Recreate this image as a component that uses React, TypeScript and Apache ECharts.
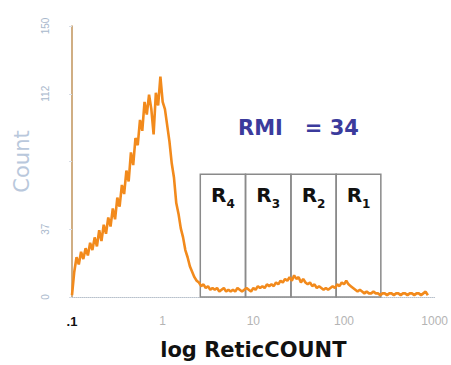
import React, { useEffect, useRef } from "react";
import * as echarts from "echarts";

// Histogram bins: evenly spaced in log10(ReticCOUNT), starting at 0.1
const binLogStart = -1;
const binLogWidth = 0.025;
const counts = [
  1, 14, 22, 18, 25, 21, 27, 23, 30, 26,
  33, 28, 37, 31, 40, 35, 44, 39, 49, 43,
  55, 50, 62, 57, 70, 64, 80, 73, 88, 84,
  98, 92, 108, 101, 112, 104, 90, 113, 106, 122,
  108, 104, 95, 86, 74, 66, 52, 46, 38, 33,
  26, 22, 17, 14, 11, 9, 8, 6, 7, 5,
  6, 4, 5, 4, 5, 3, 4, 5, 3, 4,
  3, 4, 3, 5, 4, 3, 4, 5, 4, 3,
  5, 4, 6, 5, 6, 5, 7, 6, 7, 6,
  8, 7, 9, 8, 10, 9, 11, 9, 12, 10,
  11, 8, 10, 8, 7, 8, 6, 7, 5, 6,
  5, 4, 5, 4, 5, 6, 5, 7, 6, 8,
  7, 9, 7, 6, 5, 4, 3, 4, 3, 2,
  3, 2, 2, 3, 2, 2, 1, 2, 2, 1,
  2, 2, 1, 2, 2, 1, 2, 2, 1, 2,
  2, 1, 2, 2, 1, 2, 3, 1,
];

// Regions R4..R1 (ReticCOUNT boundaries) and their height in counts
const regionNames = ["4", "3", "2", "1"];
const regionEdges = [2.6, 8.2, 26, 82, 255];
const regionTop = 68;

const yTicks = [0, 37.5, 75, 112.5, 150];
const yTickLabels = ["0", "37", "", "112", "150"];
const xTickValues = [0.1, 1, 10, 100, 1000];
const xTickLabels = [".1", "1", "10", "100", "1000"];
const rmiText = "RMI   = 34";

const BOLD = "DejaVu Sans, Liberation Sans, Arial, sans-serif";

export default function App() {
  const ref = useRef<HTMLDivElement>(null);
  useEffect(() => {
    document.body.style.margin = "0";
    if (!ref.current) return;
    const chart = echarts.init(ref.current, null, { renderer: "svg" });
    const data = counts.map((c, i) => [Math.pow(10, binLogStart + i * binLogWidth), c]);
    const areas = regionNames.map((n, i) => [
      {
        xAxis: regionEdges[i],
        yAxis: 0,
        label: { formatter: "{r|R}{s|" + n + "}" },
      },
      { xAxis: regionEdges[i + 1], yAxis: regionTop },
    ]);
    chart.setOption({
      animation: false,
      backgroundColor: "#ffffff",
      grid: { left: 72, right: 15, top: 26, bottom: 67 },
      xAxis: {
        type: "log",
        logBase: 10,
        min: 0.1,
        max: 1000,
        name: "log ReticCOUNT",
        nameLocation: "middle",
        nameGap: 42,
        nameTextStyle: {
          color: "#111",
          fontSize: 21,
          fontWeight: "bold",
          fontFamily: BOLD,
        },
        axisLine: { show: true, lineStyle: { color: "#b8c0cc", type: "dotted", width: 1 } },
        axisTick: { show: false },
        minorTick: { show: false },
        splitLine: { show: false },
        axisLabel: {
          margin: 18,
          formatter: (v: number) => {
            const idx = xTickValues.findIndex((t) => Math.abs(Math.log10(t) - Math.log10(v)) < 1e-6);
            if (idx < 0) return "";
            return idx === 0 ? "{a|" + xTickLabels[idx] + "}" : "{b|" + xTickLabels[idx] + "}";
          },
          rich: {
            a: { color: "#111", fontSize: 13, fontWeight: "bold", fontFamily: "Liberation Sans, Arial, sans-serif" },
            b: { color: "#b4b4b4", fontSize: 12, fontFamily: "Liberation Sans Narrow, Liberation Sans, Arial, sans-serif" },
          },
        },
      },
      yAxis: {
        type: "value",
        min: 0,
        max: 150,
        interval: 37.5,
        name: "Count",
        nameLocation: "middle",
        nameRotate: 90,
        nameGap: 30,
        nameTextStyle: {
          color: "#b9c8dc",
          fontSize: 21,
          fontFamily: "DejaVu Sans, Liberation Sans, Arial, sans-serif",
        },
        axisLine: { show: true, lineStyle: { color: "#c0935a", width: 1.5 } },
        axisTick: { show: true, length: 3, lineStyle: { color: "#d8dde6" } },
        splitLine: { show: false },
        axisLabel: {
          rotate: 90,
          margin: 22,
          color: "#a9b8cc",
          fontSize: 10,
          fontFamily: "Liberation Sans, Arial, sans-serif",
          formatter: (v: number) => {
            const idx = yTicks.findIndex((t) => Math.abs(t - v) < 1e-6);
            return idx < 0 ? "" : yTickLabels[idx];
          },
        },
      },
      series: [
        {
          type: "line",
          data,
          symbol: "none",
          lineStyle: { color: "#f28a1c", width: 2.6 },
          itemStyle: { color: "#f28a1c" },
          z: 3,
          markArea: {
            silent: true,
            itemStyle: { color: "rgba(0,0,0,0)", borderColor: "#8a8a8a", borderWidth: 1.5 },
            label: {
              show: true,
              position: "insideTop",
              distance: 10,
              rich: {
                r: { fontSize: 20, fontWeight: "bold", color: "#111", fontFamily: BOLD, lineHeight: 22, verticalAlign: "bottom" },
                s: { fontSize: 12, fontWeight: "bold", color: "#111", fontFamily: BOLD, lineHeight: 22, verticalAlign: "bottom", padding: [0, 0, -5, 0] },
              },
            },
            data: areas,
          },
        },
      ],
      graphic: [
        {
          type: "text",
          left: 238,
          top: 117,
          style: {
            text: rmiText,
            fill: "#3b3b9c",
            fontSize: 21,
            fontWeight: "bold",
            fontFamily: BOLD,
          },
        },
      ],
    });
    return () => chart.dispose();
  }, []);
  return <div ref={ref} style={{ width: 451, height: 365 }} />;
}
